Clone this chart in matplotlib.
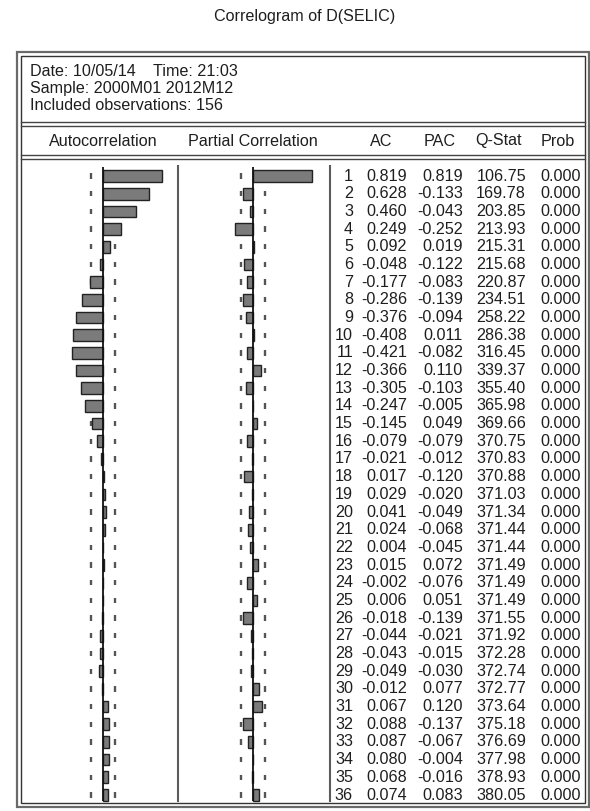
import numpy as np
import matplotlib.pyplot as plt

lags = np.arange(1, 37)
ac = [0.819, 0.628, 0.460, 0.249, 0.092, -0.048, -0.177, -0.286, -0.376, -0.408,
      -0.421, -0.366, -0.305, -0.247, -0.145, -0.079, -0.021, 0.017, 0.029, 0.041,
      0.024, 0.004, 0.015, -0.002, 0.006, -0.018, -0.044, -0.043, -0.049, -0.012,
      0.067, 0.088, 0.087, 0.080, 0.068, 0.074]
pac = [0.819, -0.133, -0.043, -0.252, 0.019, -0.122, -0.083, -0.139, -0.094, 0.011,
       -0.082, 0.110, -0.103, -0.005, 0.049, -0.079, -0.012, -0.120, -0.020, -0.049,
       -0.068, -0.045, 0.072, -0.076, 0.051, -0.139, -0.021, -0.015, -0.030, 0.077,
       0.120, -0.137, -0.067, -0.004, -0.016, 0.083]
qstat = [106.75, 169.78, 203.85, 213.93, 215.31, 215.68, 220.87, 234.51, 258.22, 286.38,
         316.45, 339.37, 355.40, 365.98, 369.66, 370.75, 370.83, 370.88, 371.03, 371.34,
         371.44, 371.44, 371.49, 371.49, 371.49, 371.55, 371.92, 372.28, 372.74, 372.77,
         373.64, 375.18, 376.69, 377.98, 378.93, 380.05]
prob = [0.000] * 36
nobs = 156
header_lines = ["Sample: 2000M01 2012M12", "Included observations: 156"]
col_titles = ["Autocorrelation", "Partial Correlation", "AC", "PAC", "Q-Stat", "Prob"]

plt.rcParams['font.family'] = ['Liberation Sans', 'DejaVu Sans']
FS = 11.6
TXT = '#1e1e1e'

W, H = 590, 811
fig = plt.figure(figsize=(W / 100, H / 100), dpi=100)


def box(x0, y0, x1, y1):
    # pixel box (top-left origin) -> figure fraction rect
    return [x0 / W, 1 - y1 / H, (x1 - x0) / W, (y1 - y0) / H]


# page-level axes in pixel units for frame, title and header
page = fig.add_axes([0, 0, 1, 1])
page.set_xlim(0, W)
page.set_ylim(H, 0)
page.axis('off')

page.text(305, 17, "Correlogram of D(SELIC)", ha='center', va='center', fontsize=FS, color=TXT)

# double frame
page.add_patch(plt.Rectangle((17, 52), 572, 755, fill=False, ec='#6a6a6a', lw=1.6))
page.add_patch(plt.Rectangle((21, 56), 564, 747, fill=False, ec='#333333', lw=1.0))
for y in (122, 126, 155, 159):
    page.plot([21, 585], [y, y], color='#444444', lw=1.0)

page.text(30, 71, "Date: 10/05/14", ha='left', va='center', fontsize=FS, color=TXT)
page.text(153, 71, "Time: 21:03", ha='left', va='center', fontsize=FS, color=TXT)
for i, line in enumerate(header_lines):
    page.text(30, 88.5 + 17.5 * i, line, ha='left', va='center', fontsize=FS, color=TXT)

for name, xc in zip(col_titles, [103, 253, 381, 440, 498, 558]):
    page.text(xc, 141, name, ha='center', va='center', fontsize=FS, color=TXT)

# column separators
for xs in (178, 330):
    page.plot([xs, xs], [166, 801], color='#5c5c5c', lw=1.5)

# row geometry
ROW0, ROW_H = 176.0, 17.686
top_px, bot_px = 163.0, 805.0
lag_top = 1 + (top_px - ROW0) / ROW_H
lag_bot = 1 + (bot_px - ROW0) / ROW_H
line_top = 1 + (167 - ROW0) / ROW_H
line_bot = 1 + (801 - ROW0) / ROW_H

PX_PER_UNIT = 72.5
bound = 2 / np.sqrt(nobs)


def bar_panel(x0, x1, zero_px, vals):
    ax = fig.add_axes(box(x0, top_px, x1, bot_px))
    ax.set_xlim((x0 - zero_px) / PX_PER_UNIT, (x1 - zero_px) / PX_PER_UNIT)
    ax.set_ylim(lag_bot, lag_top)
    ax.axis('off')
    # +-2/sqrt(n) band drawn as short dashes per lag
    for lag in lags:
        ax.vlines([-bound, bound], lag - 0.15, lag + 0.15, color='#555555', lw=1.7, zorder=1)
    ax.barh(lags, vals, height=0.66, color='#7b7b7b', edgecolor='#222222', lw=1.0, zorder=2)
    ax.vlines(0, line_top, line_bot, color='#111111', lw=1.3, zorder=3)
    return ax


bar_panel(21, 178, 103, ac)
bar_panel(178, 330, 253, pac)

# numeric table
tab = fig.add_axes(box(330, top_px, 585, bot_px))
tab.set_xlim(330, 585)
tab.set_ylim(lag_bot, lag_top)
tab.axis('off')
for i, lag in enumerate(lags):
    cells = [str(lag), f"{ac[i]:.3f}", f"{pac[i]:.3f}", f"{qstat[i]:.2f}", f"{prob[i]:.3f}"]
    for txt, xr in zip(cells, [353, 407, 463, 526, 581]):
        tab.text(xr, lag, txt, ha='right', va='center', fontsize=FS, color=TXT)

fig.savefig("out.png", dpi=100)
